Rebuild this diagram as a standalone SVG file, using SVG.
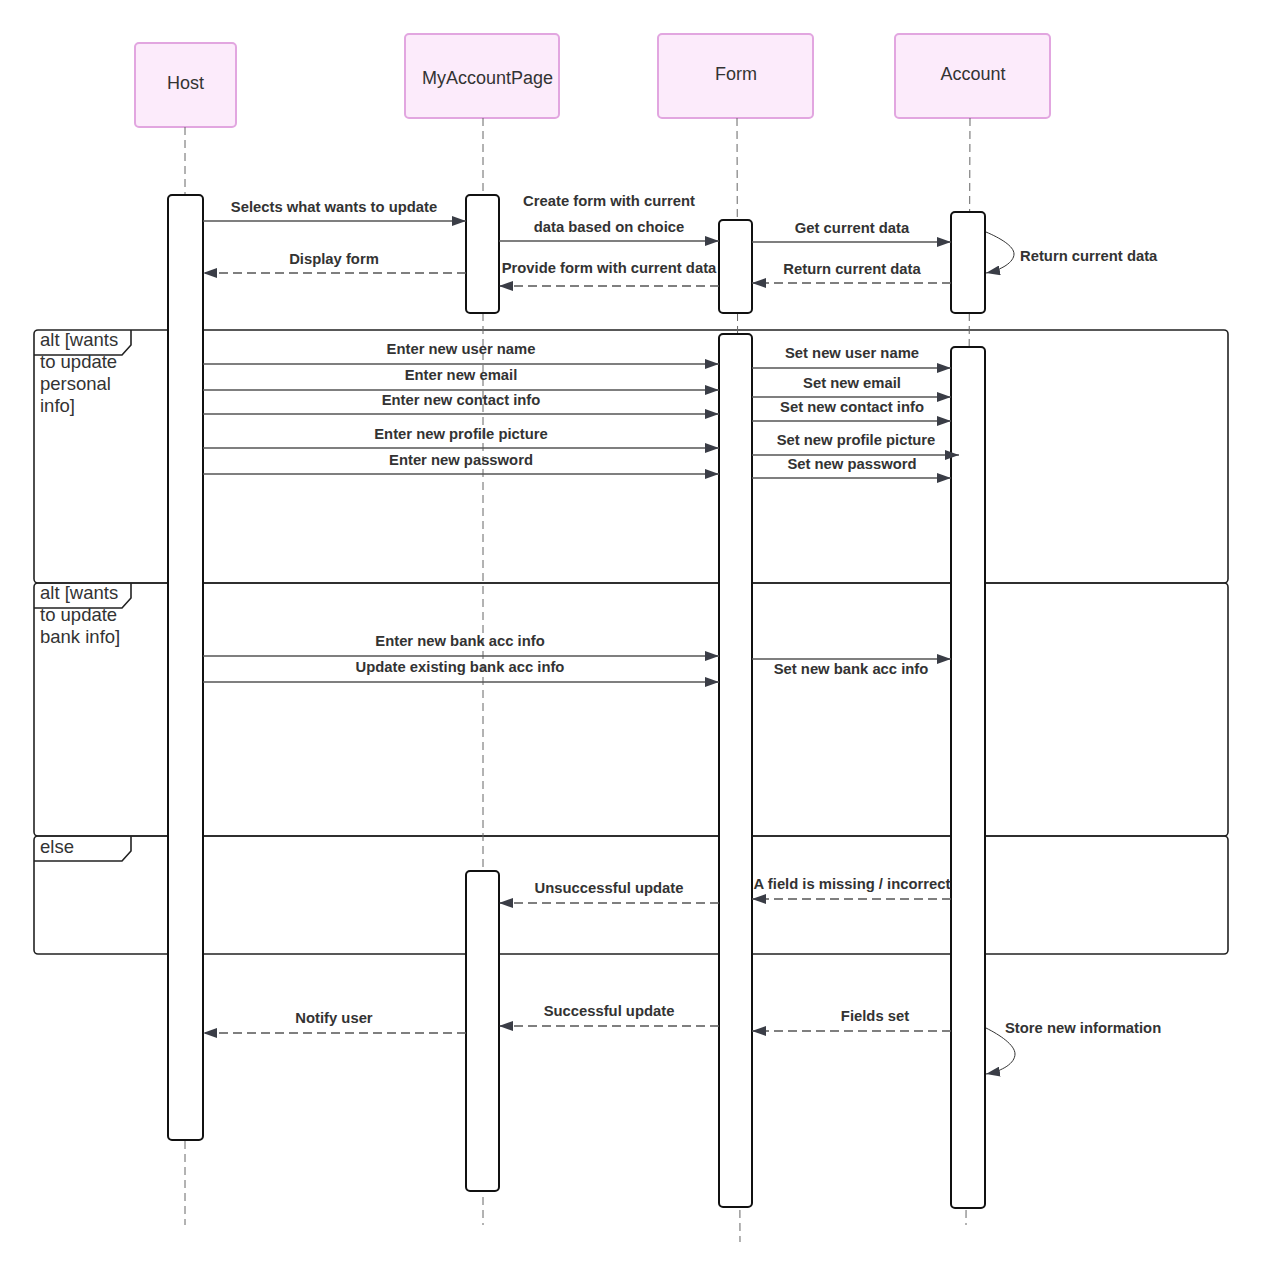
<svg xmlns="http://www.w3.org/2000/svg" width="1280" height="1276" viewBox="0 0 1280 1276">
  <defs>
    <style>
      .head { fill: #fcebfb; stroke: #e2a6e0; stroke-width: 2; }
      .head-text { font-family: "Liberation Sans", Arial, sans-serif; font-size: 18px; fill: #333; text-anchor: middle; }
      .life { stroke: #666; stroke-width: 1; stroke-dasharray: 8 5; fill: none; }
      .act { fill: #fff; stroke: #111; stroke-width: 2; }
      .frame { fill: none; stroke: #222; stroke-width: 1.6; }
      .frame-label { font-family: "Liberation Sans", Arial, sans-serif; font-size: 18.5px; fill: #333; }
      .msg { stroke: #555; stroke-width: 1.3; fill: none; marker-end: url(#arrow); }
      .ret { stroke: #555; stroke-width: 1.3; fill: none; stroke-dasharray: 9 5; marker-end: url(#arrow); }
      .loop { stroke: #333; stroke-width: 1; fill: none; marker-end: url(#arrow); }
      .lbl { font-family: "Liberation Sans", Arial, sans-serif; font-size: 14.8px; font-weight: bold; fill: #333; text-anchor: middle; }
      .lbl-l { font-family: "Liberation Sans", Arial, sans-serif; font-size: 14.8px; font-weight: bold; fill: #333; }
    </style>
    <marker id="arrow" viewBox="0 0 14 10" refX="14" refY="5" markerWidth="14" markerHeight="10" markerUnits="userSpaceOnUse" orient="auto">
      <path d="M0,0 L14,5 L0,10 z" fill="#3a3d46"/>
    </marker>
  </defs>

  <rect width="1280" height="1276" fill="#fff"/>

  <!-- combined fragments -->
  <g id="frames">
    <g id="alt-personal">
      <rect class="frame" x="34" y="330" width="1194" height="253" rx="4"/>
      <path class="frame" d="M34,355 H122 L131,345 V330"/>
      <text class="frame-label" x="40" y="346">alt [wants</text>
      <text class="frame-label" x="40" y="368">to update</text>
      <text class="frame-label" x="40" y="390">personal</text>
      <text class="frame-label" x="40" y="412">info]</text>
    </g>
    <g id="alt-bank">
      <rect class="frame" x="34" y="583" width="1194" height="253" rx="4"/>
      <path class="frame" d="M34,608 H122 L131,598 V583"/>
      <text class="frame-label" x="40" y="599">alt [wants</text>
      <text class="frame-label" x="40" y="621">to update</text>
      <text class="frame-label" x="40" y="643">bank info]</text>
    </g>
    <g id="else-branch">
      <rect class="frame" x="34" y="836" width="1194" height="118" rx="4"/>
      <path class="frame" d="M34,861 H122 L131,851 V836"/>
      <text class="frame-label" x="40" y="853">else</text>
    </g>
  </g>

  <!-- participants with lifelines and activations -->
  <g id="host">
    <rect class="head" x="135" y="43" width="101" height="84" rx="4"/>
    <text class="head-text" x="185.5" y="89">Host</text>
    <line class="life" x1="185" y1="127" x2="185" y2="1225"/>
    <rect class="act" x="168" y="195" width="35" height="945" rx="4"/>
  </g>
  <g id="my-account-page">
    <rect class="head" x="405" y="34" width="154" height="84" rx="4"/>
    <text class="head-text" x="487.5" y="84" font-size="16.6">MyAccountPage</text>
    <line class="life" x1="483" y1="118" x2="483" y2="1225"/>
    <rect class="act" x="466" y="195" width="33" height="118" rx="4"/>
    <rect class="act" x="466" y="871" width="33" height="320" rx="4"/>
  </g>
  <g id="form">
    <rect class="head" x="658" y="34" width="155" height="84" rx="4"/>
    <text class="head-text" x="736" y="80">Form</text>
    <line class="life" x1="737" y1="118" x2="740" y2="1242"/>
    <rect class="act" x="719" y="220" width="33" height="93" rx="4"/>
    <rect class="act" x="719" y="334" width="33" height="873" rx="4"/>
  </g>
  <g id="account">
    <rect class="head" x="895" y="34" width="155" height="84" rx="4"/>
    <text class="head-text" x="973" y="80">Account</text>
    <line class="life" x1="970" y1="118" x2="966" y2="1225"/>
    <rect class="act" x="951" y="212" width="34" height="101" rx="4"/>
    <rect class="act" x="951" y="347" width="34" height="861" rx="4"/>
  </g>

  <!-- messages -->
  <g id="connectors">
    <line class="msg" x1="203" y1="221" x2="466" y2="221"/>
    <line class="msg" x1="499" y1="241" x2="719" y2="241"/>
    <line class="msg" x1="752" y1="242" x2="951" y2="242"/>
    <path class="loop" d="M986,232 C1000,238 1014,246 1014,254 C1014,262 1002,270 986,273"/>
    <line class="ret" x1="951" y1="283" x2="752" y2="283"/>
    <line class="ret" x1="719" y1="286" x2="499" y2="286"/>
    <line class="ret" x1="466" y1="273" x2="203" y2="273"/>

    <line class="msg" x1="203" y1="364" x2="719" y2="364"/>
    <line class="msg" x1="203" y1="390" x2="719" y2="390"/>
    <line class="msg" x1="203" y1="414" x2="719" y2="414"/>
    <line class="msg" x1="203" y1="448" x2="719" y2="448"/>
    <line class="msg" x1="203" y1="474" x2="719" y2="474"/>
    <line class="msg" x1="752" y1="368" x2="951" y2="368"/>
    <line class="msg" x1="752" y1="397" x2="951" y2="397"/>
    <line class="msg" x1="752" y1="421" x2="951" y2="421"/>
    <line class="msg" x1="752" y1="455" x2="959" y2="455"/>
    <line class="msg" x1="752" y1="478" x2="951" y2="478"/>

    <line class="msg" x1="203" y1="656" x2="719" y2="656"/>
    <line class="msg" x1="203" y1="682" x2="719" y2="682"/>
    <line class="msg" x1="752" y1="659" x2="951" y2="659"/>

    <line class="ret" x1="719" y1="903" x2="499" y2="903"/>
    <line class="ret" x1="951" y1="899" x2="752" y2="899"/>

    <line class="ret" x1="719" y1="1026" x2="499" y2="1026"/>
    <line class="ret" x1="951" y1="1031" x2="752" y2="1031"/>
    <line class="ret" x1="466" y1="1033" x2="203" y2="1033"/>
    <path class="loop" d="M986,1028 C1000,1035 1015,1045 1015,1054 C1015,1063 1003,1071 986,1074"/>
  </g>

  <!-- message labels -->
  <g id="labels">
    <text class="lbl" x="334" y="212">Selects what wants to update</text>
    <text class="lbl" x="609" y="206">Create form with current</text>
    <text class="lbl" x="609" y="232">data based on choice</text>
    <text class="lbl" x="852" y="233">Get current data</text>
    <text class="lbl-l" x="1020" y="261">Return current data</text>
    <text class="lbl" x="852" y="274">Return current data</text>
    <text class="lbl" x="609" y="273">Provide form with current data</text>
    <text class="lbl" x="334" y="264">Display form</text>

    <text class="lbl" x="461" y="354">Enter new user name</text>
    <text class="lbl" x="461" y="380">Enter new email</text>
    <text class="lbl" x="461" y="405">Enter new contact info</text>
    <text class="lbl" x="461" y="439">Enter new profile picture</text>
    <text class="lbl" x="461" y="465">Enter new password</text>
    <text class="lbl" x="852" y="358">Set new user name</text>
    <text class="lbl" x="852" y="388">Set new email</text>
    <text class="lbl" x="852" y="412">Set new contact info</text>
    <text class="lbl" x="856" y="445">Set new profile picture</text>
    <text class="lbl" x="852" y="469">Set new password</text>

    <text class="lbl" x="460" y="646">Enter new bank acc info</text>
    <text class="lbl" x="460" y="672">Update existing bank acc info</text>
    <text class="lbl" x="851" y="674">Set new bank acc info</text>

    <text class="lbl" x="609" y="893">Unsuccessful update</text>
    <text class="lbl" x="852" y="889">A field is missing / incorrect</text>

    <text class="lbl" x="609" y="1016">Successful update</text>
    <text class="lbl" x="875" y="1021">Fields set</text>
    <text class="lbl" x="334" y="1023">Notify user</text>
    <text class="lbl-l" x="1005" y="1033">Store new information</text>
  </g>
</svg>
